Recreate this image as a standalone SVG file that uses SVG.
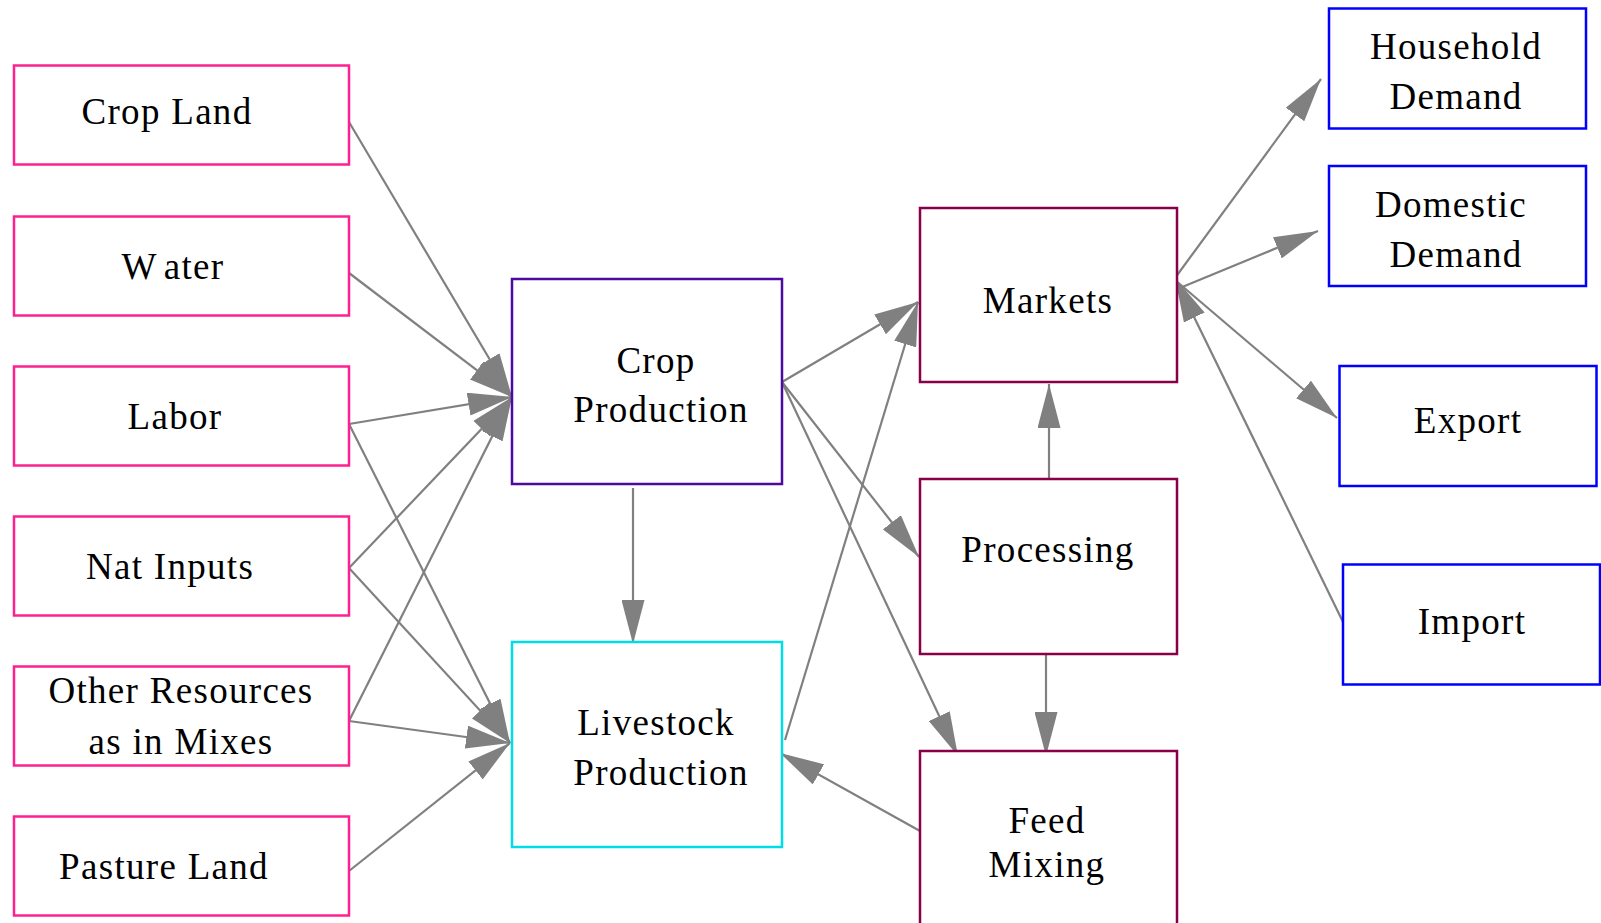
<svg xmlns="http://www.w3.org/2000/svg" width="1601" height="923" viewBox="0 0 1601 923">
<style>
.n rect{fill:#fff;stroke-width:2.5}
.res rect{stroke:#FF2090}
.cp rect{stroke:#4B0AA0}
.lp rect{stroke:#00DDE6}
.mk rect{stroke:#880048}
.dm rect{stroke:#0000FF}
text{font-family:"Liberation Serif","Times New Roman",serif;font-size:37px;letter-spacing:1.3px;fill:#000;text-anchor:middle}
.e line{stroke:#808080;stroke-width:2.2;marker-end:url(#ah)}
</style>
<defs>
<marker id="ah" markerUnits="userSpaceOnUse" markerWidth="44" markerHeight="23" refX="44" refY="11.5" orient="auto">
<path d="M0,0 L44,11.5 L0,23 z" fill="#808080"/>
</marker>
</defs>
<rect width="1601" height="923" fill="#fff"/>
<g id="edges" class="e">
<line x1="349" y1="122" x2="512" y2="397"/>
<line x1="349" y1="273" x2="512" y2="397"/>
<line x1="349" y1="424" x2="512" y2="397"/>
<line x1="349" y1="568" x2="512" y2="397"/>
<line x1="349" y1="721" x2="512" y2="397"/>
<line x1="349" y1="424" x2="510" y2="743"/>
<line x1="349" y1="568" x2="510" y2="743"/>
<line x1="349" y1="721" x2="510" y2="743"/>
<line x1="349" y1="871" x2="510" y2="743"/>
<line x1="633" y1="488" x2="633" y2="644"/>
<line x1="782" y1="382" x2="918" y2="302"/>
<line x1="785" y1="740" x2="918" y2="302"/>
<line x1="782" y1="382" x2="919" y2="557"/>
<line x1="782" y1="382" x2="958" y2="756"/>
<line x1="1049" y1="480" x2="1049" y2="384"/>
<line x1="1046" y1="653" x2="1046" y2="756"/>
<line x1="920" y1="831" x2="780" y2="753"/>
<line x1="1175" y1="278" x2="1321" y2="79"/>
<line x1="1175" y1="290" x2="1318" y2="231"/>
<line x1="1175" y1="280" x2="1337" y2="418"/>
<line x1="1343" y1="622" x2="1175" y2="278"/>
</g>
<g id="crop_land" class="n res"><rect x="14" y="65.5" width="335" height="99"/><text x="167" y="124">Crop Land</text></g>
<g id="water" class="n res"><rect x="14" y="216.5" width="335" height="99"/><text x="173" y="279">W<tspan dx="9">ater</tspan></text></g>
<g id="labor" class="n res"><rect x="14" y="366.5" width="335" height="99"/><text x="175" y="429">Labor</text></g>
<g id="nat_inputs" class="n res"><rect x="14" y="516.5" width="335" height="99"/><text x="170" y="579">Nat Inputs</text></g>
<g id="other_resources" class="n res"><rect x="14" y="666.5" width="335" height="99"/><text x="181" y="703">Other Resources</text><text x="181" y="754">as in Mixes</text></g>
<g id="pasture_land" class="n res"><rect x="14" y="816.5" width="335" height="99"/><text x="164" y="879">Pasture Land</text></g>
<g id="crop_production" class="n cp"><rect x="512" y="279" width="270" height="205"/><text x="656" y="373">Crop</text><text x="661" y="422">Production</text></g>
<g id="livestock_production" class="n lp"><rect x="512" y="642" width="270" height="205"/><text x="656" y="735">Livestock</text><text x="661" y="785">Production</text></g>
<g id="markets" class="n mk"><rect x="920" y="208" width="257" height="174"/><text x="1048" y="313">Markets</text></g>
<g id="processing" class="n mk"><rect x="920" y="479" width="257" height="175"/><text x="1048" y="562">Processing</text></g>
<g id="feed_mixing" class="n mk"><rect x="920" y="751" width="257" height="200"/><text x="1047" y="833">Feed</text><text x="1047" y="877">Mixing</text></g>
<g id="household_demand" class="n dm"><rect x="1329" y="8.5" width="257" height="120"/><text x="1456" y="59">Household</text><text x="1456" y="109">Demand</text></g>
<g id="domestic_demand" class="n dm"><rect x="1329" y="166" width="257" height="120"/><text x="1451" y="217">Domestic</text><text x="1456" y="267">Demand</text></g>
<g id="export" class="n dm"><rect x="1339.5" y="366" width="257" height="120"/><text x="1468" y="433">Export</text></g>
<g id="import" class="n dm"><rect x="1343" y="564.5" width="257" height="120"/><text x="1472" y="634">Import</text></g>
</svg>
